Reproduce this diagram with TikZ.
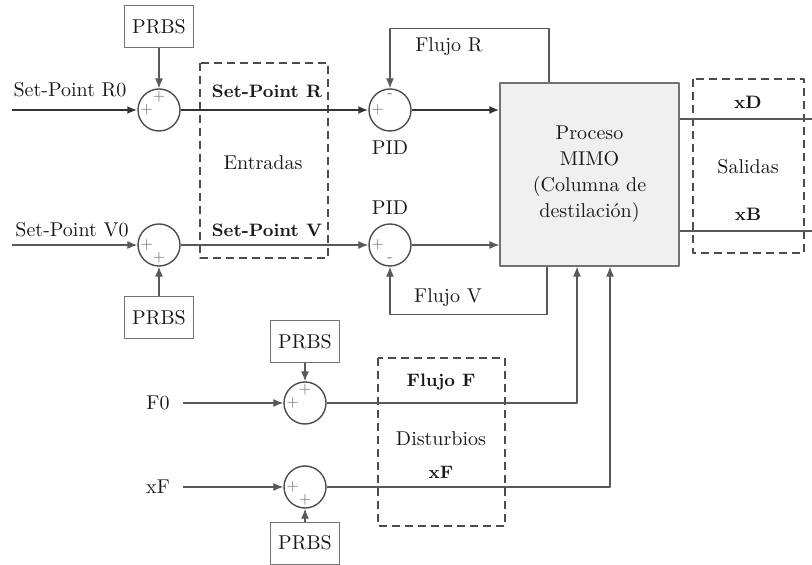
\documentclass[tikz,border=0pt]{standalone}
\usetikzlibrary{arrows.meta}
\begin{document}
\begin{tikzpicture}[x=0.5pt, y=-0.5pt, font=\fontsize{10}{13}\selectfont, line join=round,
    >={Latex[length=5pt,width=4pt]},
    ln/.style={draw=black!65, line width=0.6pt},
    thickln/.style={draw=black!80, line width=1.1pt},
    sumnode/.style={circle, draw=black!70, line width=0.7pt, minimum size=21pt, inner sep=0pt},
    prbs/.style={draw=black!55, line width=0.5pt, minimum width=34.5pt, minimum height=21pt, inner sep=0pt, text=black!90},
    dashbox/.style={draw=black!70, dash pattern=on 4pt off 2.5pt, line width=0.6pt},
    sgn/.style={font=\fontsize{7.5}{7.5}\selectfont, inner sep=1.5pt, text=black!55},
    lbl/.style={text=black!90, inner sep=1pt},
    blbl/.style={lbl, font=\fontsize{9}{13}\selectfont\bfseries}]
  \useasboundingbox (0,0) rectangle (812,565);
  % zonas punteadas
  \draw[dashbox] (200,63) rectangle (328,258);
  \draw[dashbox] (693,79) rectangle (804,253);
  \draw[dashbox] (378,358) rectangle (505,526);
  % bloques
  \node[prbs] (prbsR) at (159,27) {PRBS};
  \node[prbs] (prbsV) at (159,318) {PRBS};
  \node[prbs] (prbsF) at (305,342) {PRBS};
  \node[prbs] (prbsX) at (305,543) {PRBS};
  \node[sumnode, label={[sgn,anchor=west]west:+}, label={[sgn,anchor=north]north:+}] (sumR) at (159,110) {};
  \node[sumnode, label={[sgn,anchor=west]west:+}, label={[sgn,anchor=south]south:+}] (sumV) at (159,245) {};
  \node[sumnode, label={[sgn,anchor=west]west:+}, label={[sgn,anchor=north]north:+}] (sumF) at (305,403) {};
  \node[sumnode, label={[sgn,anchor=west]west:+}, label={[sgn,anchor=south]south:+}] (sumX) at (305,487) {};
  \node[sumnode, label={[sgn,anchor=west]west:+}, label={[sgn,anchor=north,yshift=-1pt]north:-}] (pidR) at (390,110) {};
  \node[sumnode, label={[sgn,anchor=west]west:+}, label={[sgn,anchor=south,yshift=1pt]south:-}] (pidV) at (390,245) {};
  \node[draw=black!55, line width=0.6pt, fill=black!6, minimum width=89.5pt, minimum height=91.5pt,
        align=center, text=black!90] (proc) at (589.5,174.5) {Proceso\\MIMO\\(Columna de\\destilación)};
  % extremos libres
  \coordinate (inR) at (12,110);
  \coordinate (inV) at (12,245);
  \coordinate (inF) at (183,403);
  \coordinate (inX) at (183,487);
  \coordinate (outD) at (812,119);
  \coordinate (outB) at (812,231);
  % textos
  \node[lbl] (lblR0) at (70,90) {Set-Point R0};
  \node[lbl] (lblV0) at (72,230) {Set-Point V0};
  \node[blbl] (lblR) at (267,91) {Set-Point R};
  \node[lbl] (lblE) at (263,163) {Entradas};
  \node[blbl] (lblV) at (267,230) {Set-Point V};
  \node[lbl] (lblFR) at (449,47) {Flujo R};
  \node[lbl] (lblPR) at (390,148) {PID};
  \node[lbl] (lblPV) at (390,208) {PID};
  \node[lbl] (lblFV) at (448,298) {Flujo V};
  \node[blbl] (lblD) at (748,102) {xD};
  \node[lbl] (lblS) at (748,167) {Salidas};
  \node[blbl] (lblB) at (748,214) {xB};
  \node[lbl] (lblF0) at (158,403) {F0};
  \node[lbl] (lblX0) at (158,487) {xF};
  \node[blbl] (lblFF) at (441,382) {Flujo F};
  \node[lbl] (lblDi) at (441,439) {Disturbios};
  \node[blbl] (lblXF) at (441,472) {xF};
  % conexiones
  \draw[thickln,->] (inR) -- (sumR);
  \draw[thickln,->] (sumR) -- (pidR);
  \draw[thickln,->] (pidR) -- (pidR -| proc.west);
  \draw[ln,->] (inV) -- (sumV);
  \draw[ln,->] (sumV) -- (pidV);
  \draw[ln,->] (pidV) -- (pidV -| proc.west);
  \foreach \p/\s in {prbsR/sumR, prbsV/sumV, prbsF/sumF, prbsX/sumX}
    \draw[ln,->] (\p) -- (\s);
  \draw[ln,->] (inF) -- (sumF);
  \draw[ln,->] (inX) -- (sumX);
  \draw[ln,->] ([xshift=-20.25pt]proc.north) -- ++(0,-54) -| (pidR);
  \draw[ln,->] ([xshift=-21.25pt]proc.south) -- ++(0,48) -| (pidV);
  \draw[ln,->] (sumF) -| ([xshift=-6.25pt]proc.south);
  \draw[ln,->] (sumX) -| ([xshift=10.25pt]proc.south);
  \draw[ln] (proc.east |- outD) -- (outD);
  \draw[ln] (proc.east |- outB) -- (outB);
\end{tikzpicture}
\end{document}
